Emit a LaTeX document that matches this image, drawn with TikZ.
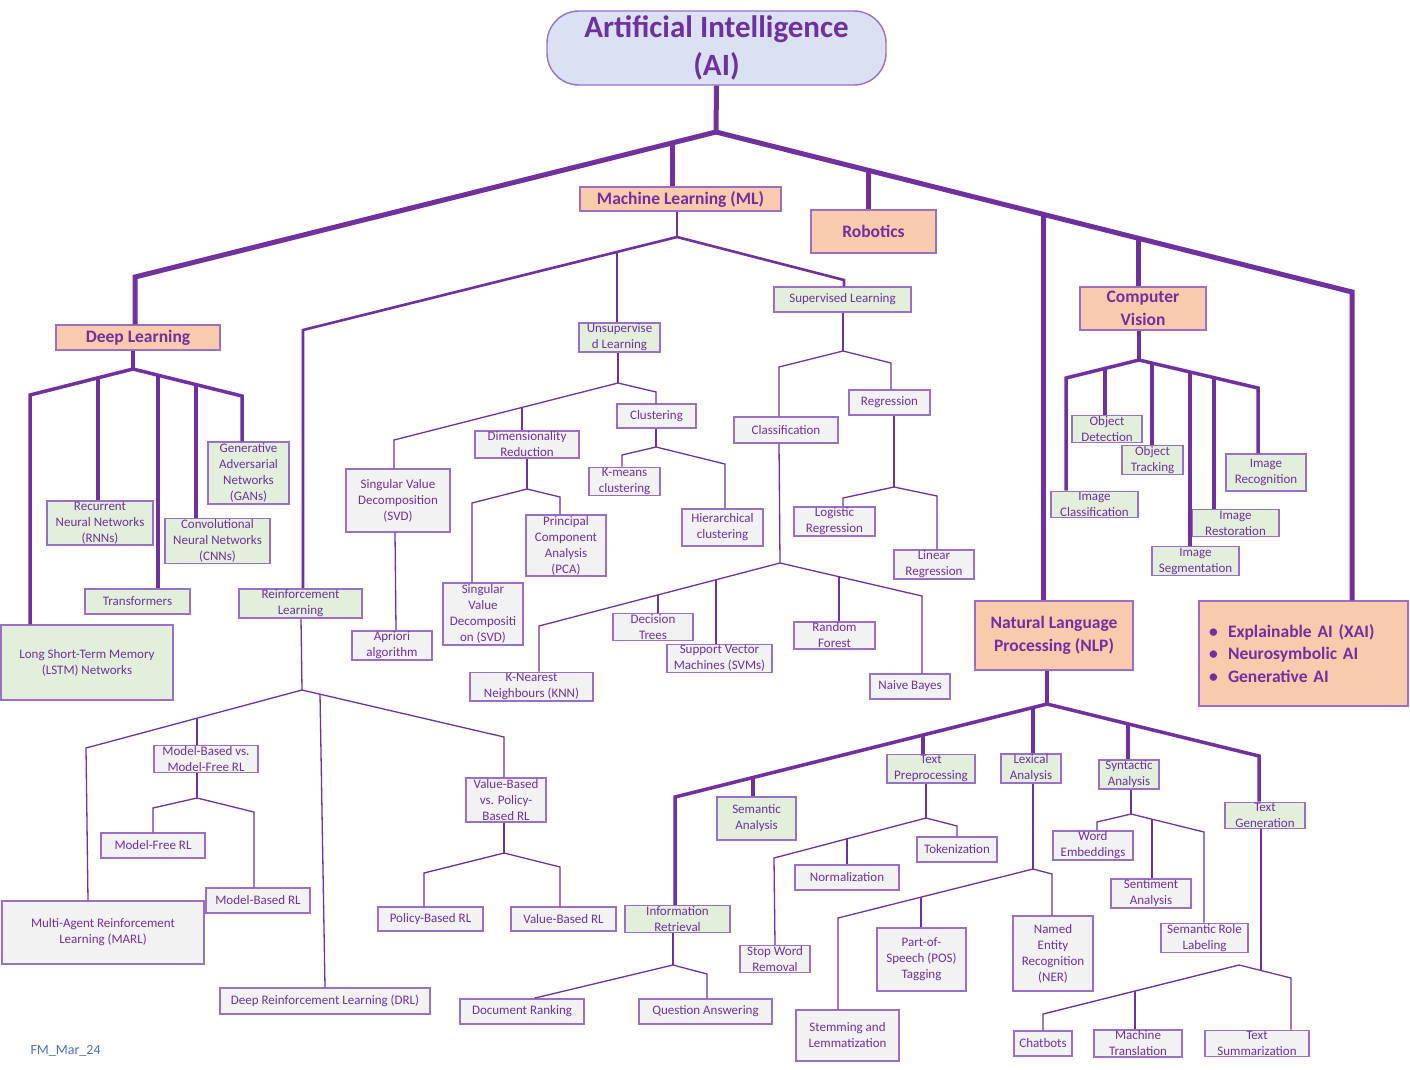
\documentclass[tikz,border=0pt]{standalone}
\usepackage{fontspec}
\setmainfont{Carlito}
\usepackage{xcolor}
\usetikzlibrary{positioning,calc}

\definecolor{aipurple}{HTML}{7030A0}
\definecolor{boxline}{RGB}{155,110,200}
\definecolor{boxgreen}{HTML}{E2EFDA}
\definecolor{boxgray}{HTML}{F2F2F2}
\definecolor{boxorange}{HTML}{F8CBAD}
\definecolor{boxblue}{HTML}{DAE1F3}
\definecolor{fmblue}{HTML}{4472C4}

\newcommand{\boxfont}{\fontsize{13}{16}\selectfont}
\newcommand{\headfont}{\fontsize{17.5}{22.5}\selectfont\bfseries}
\newcommand{\titlefont}{\fontsize{31}{38}\selectfont\bfseries}

\tikzset{
  sz/.style 2 args={minimum width=#1pt, minimum height=#2pt},
  box/.style={draw=boxline, line width=1.4pt, text=aipurple, align=center,
    inner sep=1pt, font=\boxfont},
  gbox/.style={box, fill=boxgreen},
  sbox/.style={box, fill=boxgray},
  obox/.style={box, fill=boxorange, font=\headfont},
  trunk/.style={draw=aipurple, line width=5pt},
  main/.style={draw=aipurple, line width=3.5pt},
  mid/.style={draw=aipurple, line width=2.6pt},
  twig/.style={draw=aipurple, line width=1.3pt}
}

\begin{document}
\begin{tikzpicture}[x=1pt,y=-1pt]
\useasboundingbox (0,0) rectangle (1410,1069);

% Top level
\node[box, fill=boxblue, font=\titlefont, rounded corners=32pt, sz={339}{74}] (ai) at (716.5,48) {Artificial Intelligence\\(AI)};
\node[obox, sz={201}{24}] (ml) at (680.5,199) {Machine Learning (ML)};
\node[obox, sz={125}{43}] (rob) at (873.5,231.5) {Robotics};
\node[obox, sz={164}{25}] (dl) at (138,337.5) {Deep Learning};
\node[obox, sz={126}{43}] (cv) at (1143,308.5) {Computer\\Vision};
\node[obox, sz={158}{69}] (nlp) at (1054,635.5) {Natural Language\\Processing (NLP)};
\node[obox, align=left, text width=189pt, inner xsep=10pt, minimum height=105pt] (xai) at (1303.5,653.5)
  {\makebox[19pt][l]{\textbullet}Explainable AI (XAI)\\\makebox[19pt][l]{\textbullet}Neurosymbolic AI\\\makebox[19pt][l]{\textbullet}Generative AI};

% Deep learning
\node[gbox, sz={81}{62}] (gan) at (248.5,473) {Generative\\Adversarial\\Networks\\(GANs)};
\node[gbox, sz={106}{44}] (rnn) at (100,523) {Recurrent\\Neural Networks\\(RNNs)};
\node[gbox, sz={105}{44}] (cnn) at (217.5,541) {Convolutional\\Neural Networks\\(CNNs)};
\node[gbox, sz={105}{25}] (tr) at (137.5,601.5) {Transformers};
\node[gbox, sz={172}{75}] (lstm) at (87,662.5) {Long Short-Term Memory\\(LSTM) Networks};

% Machine learning
\node[gbox, sz={137}{25}] (sup) at (842.5,299.5) {Supervised Learning};
\node[gbox, sz={81}{25}] (unsup) at (619.5,337.5) {Unsupervise\\d Learning};
\node[gbox, sz={123}{25}] (rl) at (300.5,603.5) {Reinforcement\\Learning};

% Unsupervised
\node[sbox, sz={79}{24}] (clu) at (656.5,416) {Clustering};
\node[sbox, sz={104}{25}] (dim) at (527,444.5) {Dimensionality\\Reduction};
\node[sbox, sz={104}{63}] (svd) at (398,500.5) {Singular Value\\Decomposition\\(SVD)};
\node[sbox, sz={80}{25}] (apr) at (392,645.5) {Apriori\\algorithm};
\node[sbox, sz={71}{25}] (km) at (624.5,481.5) {K-means\\clustering};
\node[sbox, sz={81}{37}] (hier) at (722.5,527.5) {Hierarchical\\clustering};
\node[sbox, sz={80}{57}] (pca) at (566,545.5) {Principal\\Component\\Analysis\\(PCA)};
\node[sbox, sz={80}{62}] (svdb) at (483,614) {Singular\\Value\\Decompositi\\on (SVD)};

% Supervised
\node[sbox, sz={104}{26}] (cls) at (786,430) {Classification};
\node[sbox, sz={81}{25}] (reg) at (889.5,402.5) {Regression};
\node[sbox, sz={81}{25}] (logr) at (834.5,521.5) {Logistic\\Regression};
\node[sbox, sz={80}{25}] (linr) at (934,564.5) {Linear\\Regression};
\node[sbox, sz={80}{26}] (dt) at (653,627) {Decision\\Trees};
\node[sbox, sz={105}{25}] (svm) at (719.5,658.5) {Support Vector\\Machines (SVMs)};
\node[sbox, sz={81}{25}] (rf) at (834.5,635.5) {Random\\Forest};
\node[sbox, sz={80}{25}] (nb) at (910,686.5) {Naive Bayes};
\node[sbox, sz={123}{25}] (knn) at (531.5,686.5) {K-Nearest\\Neighbours (KNN)};

% Reinforcement
\node[sbox, sz={104}{26}] (mbmf) at (206,759) {Model-Based vs.\\Model-Free RL};
\node[sbox, sz={104}{25}] (mf) at (153,845.5) {Model-Free RL};
\node[sbox, sz={104}{25}] (mb) at (258,900.5) {Model-Based RL};
\node[sbox, sz={202}{63}] (marl) at (103,932.5) {Multi-Agent Reinforcement\\Learning (MARL)};
\node[sbox, sz={210}{26}] (drl) at (325,1001) {Deep Reinforcement Learning (DRL)};
\node[sbox, sz={80}{44}] (vbpb) at (506,800) {Value-Based\\vs. Policy-\\Based RL};
\node[sbox, sz={105}{24}] (pb) at (430.5,919) {Policy-Based RL};
\node[sbox, sz={105}{24}] (vb) at (563.5,919) {Value-Based RL};

% NLP
\node[gbox, sz={79}{43}] (sem) at (756.5,818.5) {Semantic\\Analysis};
\node[gbox, sz={88}{25}] (tp) at (931,768.5) {Text\\Preprocessing};
\node[gbox, sz={60}{25}] (lex) at (1031,768.5) {Lexical\\Analysis};
\node[gbox, sz={60}{25}] (syn) at (1129,774.5) {Syntactic\\Analysis};
\node[gbox, sz={80}{25}] (tg) at (1265,815.5) {Text\\Generation};
\node[gbox, sz={105}{24}] (ir) at (677.5,919) {Information\\Retrieval};
\node[sbox, sz={80}{25}] (tok) at (957,849.5) {Tokenization};
\node[sbox, sz={104}{25}] (norm) at (847,877.5) {Normalization};
\node[sbox, sz={70}{26}] (swr) at (775,959) {Stop Word\\Removal};
\node[sbox, sz={89}{63}] (pos) at (921.5,959.5) {Part-of-\\Speech (POS)\\Tagging};
\node[sbox, sz={80}{75}] (ner) at (1053,953.5) {Named\\Entity\\Recognition\\(NER)};
\node[sbox, sz={103}{51}] (stem) at (847.5,1035.5) {Stemming and\\Lemmatization};
\node[sbox, sz={80}{25}] (we) at (1093,845.5) {Word\\Embeddings};
\node[sbox, sz={80}{25}] (sa) at (1151,893.5) {Sentiment\\Analysis};
\node[sbox, sz={87}{26}] (srl) at (1204.5,938) {Semantic Role\\Labeling};
\node[sbox, sz={58}{25}] (chat) at (1043,1043.5) {Chatbots};
\node[sbox, sz={88}{25}] (mt) at (1138,1043.5) {Machine\\Translation};
\node[sbox, sz={104}{25}] (ts) at (1257,1043.5) {Text\\Summarization};
\node[sbox, sz={124}{25}] (dr) at (522,1011.5) {Document Ranking};
\node[sbox, sz={133}{25}] (qa) at (705.5,1011.5) {Question Answering};

% Computer vision
\node[gbox, sz={70}{26}] (od) at (1107,429) {Object\\Detection};
\node[gbox, sz={61}{26}] (ot) at (1152.5,460) {Object\\Tracking};
\node[gbox, sz={80}{37}] (irec) at (1266,472.5) {Image\\Recognition};
\node[gbox, sz={87}{25}] (icl) at (1094.5,504.5) {Image\\Classification};
\node[gbox, sz={87}{26}] (ires) at (1235.5,523) {Image\\Restoration};
\node[gbox, sz={87}{26}] (iseg) at (1195.5,561) {Image\\Segmentation};

\node[anchor=west, text=fmblue, font=\fontsize{14}{16}\selectfont] (fm) at (27,1051) {FM\_Mar\_24};

% AI trunk
\draw[trunk] (ai.south) -- (716,132) coordinate (aij);
\draw[trunk] (aij) -- (135,277) coordinate (ail) -- (ail |- dl.north);
\draw[trunk] (aij) -- (1352,292) coordinate (air) -- (air |- xai.north);
\draw[trunk] (672,143) -- (672,143 |- ml.north);
\draw[trunk] (868,170) -- (868,170 |- rob.north);
\draw[trunk] (1043,214) -- (1043,214 |- nlp.north);
\draw[trunk] (1138,238) -- (1138,238 |- cv.north);

% DL branches
\draw[main] (133,0 |- dl.south) -- (133,369) coordinate (dlj);
\draw[main] (dlj) -- (30,395) coordinate (dla) -- (dla |- lstm.north);
\draw[main] (dlj) -- (242,396) coordinate (dlb) -- (dlb |- gan.north);
\draw[main] (98,378) -- (98,378 |- rnn.north);
\draw[main] (158,375) -- (158,375 |- tr.north);
\draw[main] (196,385) -- (196,385 |- cnn.north);

% ML branches
\draw[mid] (677,0 |- ml.south) -- (677,237) coordinate (mlj);
\draw[mid] (mlj) -- (303,330) coordinate (mla) -- (mla |- rl.north);
\draw[mid] (mlj) -- (844,280) coordinate (mlb) -- (mlb |- sup.north);
\draw[mid] (617,252) -- (617,252 |- unsup.north);

% unsupervised
\draw[twig] (618,0 |- unsup.south) -- (618,383) coordinate (usj);
\draw[twig] (usj) -- (394,440) coordinate (usa) -- (usa |- svd.north);
\draw[twig] (usj) -- (656,392) coordinate (usb) -- (usb |- clu.north);
\draw[twig] (522,407) -- (522,407 |- dim.north);
\draw[twig] (395,0 |- svd.south) -- (396,0 |- apr.north);
\draw[twig] (656,0 |- clu.south) -- (656,447) coordinate (clj);
\draw[twig] (clj) -- (622,455) coordinate (cla) -- (cla |- km.north);
\draw[twig] (clj) -- (725,464) coordinate (clb) -- (clb |- hier.north);
\draw[twig] (527,0 |- dim.south) -- (527,489) coordinate (dmj);
\draw[twig] (dmj) -- (472,503) coordinate (dma) -- (dma |- svdb.north);
\draw[twig] (dmj) -- (560,497) coordinate (dmb) -- (dmb |- pca.north);

% supervised
\draw[twig] (843,0 |- sup.south) -- (843,351) coordinate (spj);
\draw[twig] (spj) -- (779,367) coordinate (spa) -- (spa |- cls.north);
\draw[twig] (spj) -- (891,363) coordinate (spb) -- (spb |- reg.north);
\draw[twig] (894,0 |- reg.south) -- (894,487) coordinate (rgj);
\draw[twig] (rgj) -- (843,498) coordinate (rga) -- (rga |- logr.north);
\draw[twig] (rgj) -- (937,496) coordinate (rgb) -- (rgb |- linr.north);
\draw[twig] (779,0 |- cls.south) -- (780,563) coordinate (csj);
\draw[twig] (csj) -- (539,626) coordinate (csa) -- (csa |- knn.north);
\draw[twig] (csj) -- (922,596) coordinate (csb) -- (csb |- nb.north);
\draw[twig] (658,595) -- (658,595 |- dt.north);
\draw[twig] (716,580) -- (716,580 |- svm.north);
\draw[twig] (839,577) -- (839,577 |- rf.north);

% reinforcement
\draw[twig] (301,0 |- rl.south) -- (302,690) coordinate (rlj);
\draw[twig] (rlj) -- (86,748) coordinate (rla) -- (88,0 |- marl.north);
\draw[twig] (rlj) -- (504,737) coordinate (rlb) -- (rlb |- vbpb.north);
\draw[twig] (197,718) -- (197,718 |- mbmf.north);
\draw[twig] (320,694) -- (325,0 |- drl.north);
\draw[twig] (197,0 |- mbmf.south) -- (197,798) coordinate (mmj);
\draw[twig] (mmj) -- (153,808) coordinate (mma) -- (mma |- mf.north);
\draw[twig] (mmj) -- (254,812) coordinate (mmb) -- (mmb |- mb.north);
\draw[twig] (504,0 |- vbpb.south) -- (504,853) coordinate (vpj);
\draw[twig] (vpj) -- (424,873) coordinate (vpa) -- (vpa |- pb.north);
\draw[twig] (vpj) -- (560,867) coordinate (vpb) -- (vpb |- vb.north);

% NLP branches
\draw[main] (1047,0 |- nlp.south) -- (1047,704) coordinate (nlj);
\draw[main] (nlj) -- (675,797) coordinate (nla) -- (nla |- ir.north);
\draw[main] (nlj) -- (1259,756) coordinate (nlb) -- (nlb |- tg.north);
\draw[main] (753,777) -- (753,777 |- sem.north);
\draw[main] (923,735) -- (923,735 |- tp.north);
\draw[main] (1033,708) -- (1033,708 |- lex.north);
\draw[main] (1128,724) -- (1128,724 |- syn.north);

\draw[twig] (926,0 |- tp.south) -- (926,818) coordinate (tpj);
\draw[twig] (tpj) -- (774,858) coordinate (tpa) -- (775,0 |- swr.north);
\draw[twig] (tpj) -- (957,826) coordinate (tpb) -- (tpb |- tok.north);
\draw[twig] (847,838) -- (847,838 |- norm.north);
\draw[twig] (1033,0 |- lex.south) -- (1033,869) coordinate (lxj);
\draw[twig] (lxj) -- (838,918) coordinate (lxa) -- (lxa |- stem.north);
\draw[twig] (lxj) -- (1052,874) coordinate (lxb) -- (lxb |- ner.north);
\draw[twig] (921,897) -- (921,897 |- pos.north);
\draw[twig] (1131,0 |- syn.south) -- (1131,814) coordinate (syj);
\draw[twig] (syj) -- (1097,822) coordinate (sya) -- (sya |- we.north);
\draw[twig] (syj) -- (1204,832) coordinate (syb) -- (syb |- srl.north);
\draw[twig] (1152,819) -- (1152,819 |- sa.north);
\draw[twig] (1261,0 |- tg.south) -- (1261,970);
\draw[twig] (1239,965) coordinate (tgj) -- (1043,1014) coordinate (tga) -- (tga |- chat.north);
\draw[twig] (tgj) -- (1291,978) coordinate (tgb) -- (tgb |- ts.north);
\draw[twig] (1135,991) -- (1135,991 |- mt.north);
\draw[twig] (673,0 |- ir.south) -- (673,965) coordinate (irj);
\draw[twig] (irj) -- (535,998) coordinate (ira) -- (ira |- dr.north);
\draw[twig] (irj) -- (707,974) coordinate (irb) -- (irb |- qa.north);

% CV branches
\draw[main] (1139,0 |- cv.south) -- (1139,360) coordinate (cvj);
\draw[main] (cvj) -- (1066,378) coordinate (cva) -- (cva |- icl.north);
\draw[main] (cvj) -- (1258,388) coordinate (cvb) -- (cvb |- irec.north);
\draw[main] (1105,368.5) -- (1105,368.5 |- od.north);
\draw[main] (1152,363) -- (1152,363 |- ot.north);
\draw[main] (1190,372) -- (1190,372 |- iseg.north);
\draw[main] (1214,378) -- (1214,378 |- ires.north);
\end{tikzpicture}
\end{document}
